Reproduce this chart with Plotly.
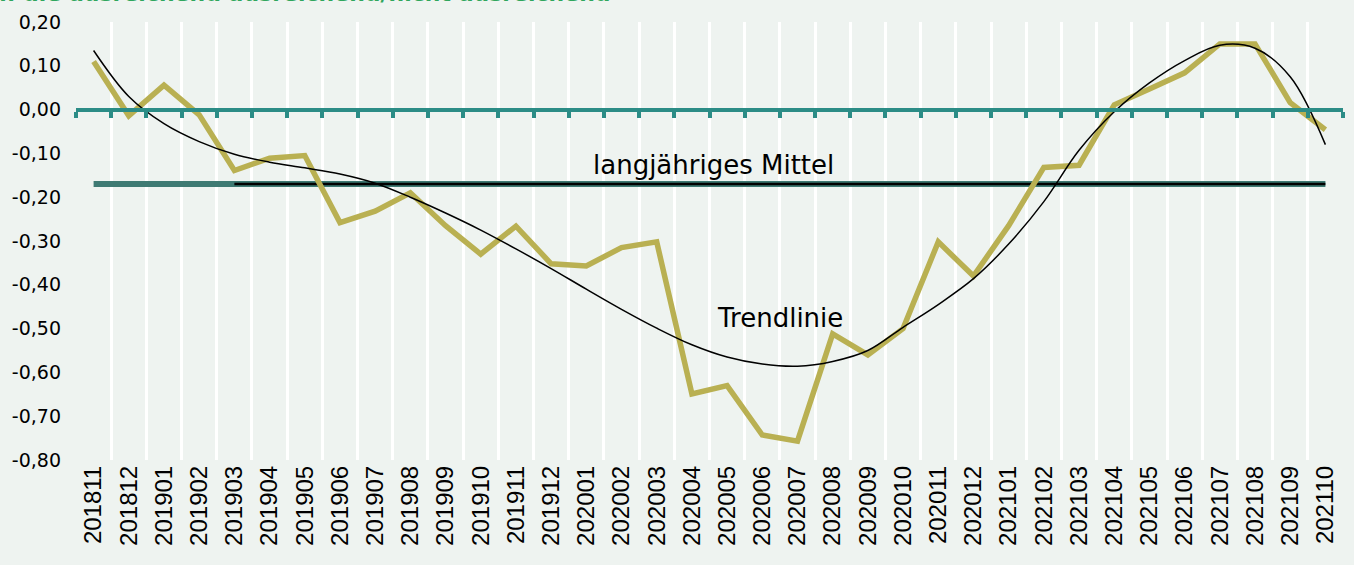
import plotly.graph_objects as go

# Monate (Kategorien)
perioden = ["201811", "201812", "201901", "201902", "201903", "201904", "201905", "201906",
            "201907", "201908", "201909", "201910", "201911", "201912", "202001", "202002",
            "202003", "202004", "202005", "202006", "202007", "202008", "202009", "202010",
            "202011", "202012", "202101", "202102", "202103", "202104", "202105", "202106",
            "202107", "202108", "202109", "202110"]

# Messwerte
werte = [0.11, -0.014, 0.056, -0.012, -0.139, -0.111, -0.105, -0.258,
         -0.232, -0.19, -0.265, -0.33, -0.266, -0.352, -0.357, -0.315,
         -0.302, -0.649, -0.63, -0.743, -0.757, -0.512, -0.56, -0.50,
         -0.302, -0.38, -0.265, -0.132, -0.127, 0.011, 0.047, 0.084,
         0.15, 0.15, 0.016, -0.046]

# Trendlinie
trend = [0.135, 0.03, -0.032, -0.073, -0.102, -0.12, -0.133, -0.147,
         -0.168, -0.2, -0.236, -0.275, -0.318, -0.363, -0.41, -0.456,
         -0.499, -0.537, -0.565, -0.581, -0.586, -0.575, -0.55, -0.497,
         -0.445, -0.386, -0.307, -0.21, -0.093, -0.005, 0.061, 0.112,
         0.147, 0.14, 0.075, -0.08]

mittel = -0.17

# Achsenbeschriftung y
y_ticks = [0.2, 0.1, 0.0, -0.1, -0.2, -0.3, -0.4, -0.5, -0.6, -0.7, -0.8]
y_labels = ["0,20", "0,10", "0,00", "-0,10", "-0,20", "-0,30", "-0,40", "-0,50",
            "-0,60", "-0,70", "-0,80"]

bg_color = "#eef3f0"
gelb = "#b9b052"
teal = "#2b8c86"
teal_dunkel = "#3e7a73"
gruen = "#2fa65d"
text_color = "black"

fig = go.Figure()

# langjähriges Mittel (zwei Serien übereinander)
fig.add_trace(go.Scatter(x=perioden, y=[mittel] * len(perioden), mode="lines",
                         line=dict(color=teal_dunkel, width=6), showlegend=False, hoverinfo="skip"))
fig.add_trace(go.Scatter(x=perioden[4:], y=[mittel] * len(perioden[4:]), mode="lines",
                         line=dict(color="black", width=2.5), showlegend=False, hoverinfo="skip"))

# Messwerte
fig.add_trace(go.Scatter(x=perioden, y=werte, mode="lines",
                         line=dict(color=gelb, width=5.5), showlegend=False))

# Trendlinie
fig.add_trace(go.Scatter(x=perioden, y=trend, mode="lines",
                         line=dict(color="black", width=1.5, shape="spline", smoothing=1.0),
                         showlegend=False))

# Hilfsspur für die Nulllinie mit Teilstrichen
fig.add_trace(go.Scatter(x=perioden, y=[None] * len(perioden), xaxis="x2",
                         mode="lines", showlegend=False, hoverinfo="skip"))

fig.add_annotation(x=17.6, y=-0.126, xref="x", yref="y", text="langjähriges Mittel",
                   showarrow=False, font=dict(family="DejaVu Sans", size=26, color=text_color))
fig.add_annotation(x=19.5, y=-0.476, xref="x", yref="y", text="Trendlinie",
                   showarrow=False, font=dict(family="DejaVu Sans", size=26, color=text_color))

# abgeschnittener Titel oben
fig.add_annotation(x=0, y=1.0, xref="paper", yref="paper", xanchor="left", yanchor="bottom",
                   xshift=-87, yshift=14,
                   text="<b>n: die ausreichend ausreichend/nicht ausreichend</b>",
                   showarrow=False, font=dict(family="DejaVu Sans", size=22, color=gruen))

x_range = [-0.5, len(perioden) - 0.5]

fig.update_layout(
    width=1354,
    height=565,
    plot_bgcolor=bg_color,
    paper_bgcolor=bg_color,
    margin=dict(l=76, r=11, t=17, b=105),
    xaxis=dict(
        type="category",
        categoryorder="array",
        categoryarray=perioden,
        range=x_range,
        showgrid=True,
        gridcolor="white",
        gridwidth=3,
        tickson="boundaries",
        ticks="",
        tickangle=-90,
        tickfont=dict(family="Liberation Sans", size=24, color=text_color),
        showline=False,
        zeroline=False,
    ),
    xaxis2=dict(
        type="category",
        categoryorder="array",
        categoryarray=perioden,
        range=x_range,
        overlaying="x",
        anchor="free",
        position=0.8,
        side="bottom",
        showline=True,
        linecolor=teal,
        linewidth=4,
        ticks="outside",
        tickson="boundaries",
        ticklen=6,
        tickwidth=4,
        tickcolor=teal,
        showticklabels=False,
        showgrid=False,
        zeroline=False,
    ),
    yaxis=dict(
        range=[-0.8, 0.2],
        tickvals=y_ticks,
        ticktext=y_labels,
        showgrid=False,
        zeroline=False,
        showline=False,
        ticklabelstandoff=14,
        tickfont=dict(family="DejaVu Sans", size=19, color=text_color),
    ),
)

fig.write_html("out.html", config={"displayModeBar": False},
               post_script="document.body.style.margin='0';")
